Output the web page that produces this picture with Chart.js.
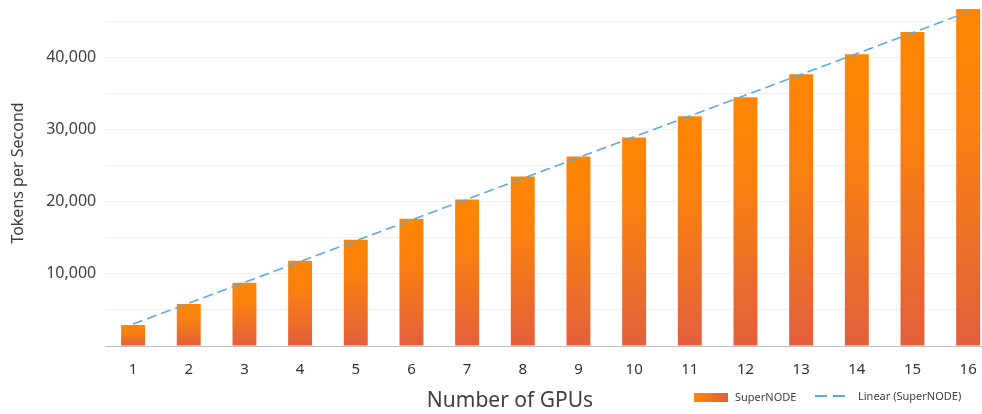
<!DOCTYPE html>
<html>
<head>
<meta charset="utf-8">
<script src="https://cdn.jsdelivr.net/npm/chart.js@4.4.1/dist/chart.umd.min.js"></script>
<style>
  body { margin: 0; overflow: hidden; background: #fff; }
  #wrap { width: 1000px; height: 414px; }
</style>
</head>
<body>
<div id="wrap"><canvas id="gpuChart"></canvas></div>
<script>
const gpus = ['1', '2', '3', '4', '5', '6', '7', '8', '9', '10', '11', '12', '13', '14', '15', '16'];
const tokensPerSecond = [2920, 5840, 8770, 11830, 14750, 17670, 20310, 23510, 26300, 28940, 31860, 34500, 37700, 40490, 43550, 46750];
// trendline: only the two ends, joined straight
const linearTrend = [3050, null, null, null, null, null, null, null, null, null, null, null, null, null, null, 46350];
// gridlines every 5,000, labelled every 10,000
const yTickValues = [0, 5000, 10000, 15000, 20000, 25000, 30000, 35000, 40000, 45000];
const yTickLabels = ['', '', '10,000', '', '20,000', '', '30,000', '', '40,000', ''];

const FONT = "'Noto Sans', 'DejaVu Sans', sans-serif";

//Vertical orange to red fill for each bar, from its own top to the axis
function barFill(context) {
    const chart = context.chart;
    if (!chart.chartArea || !chart.scales.y) return '#F58220';
    const y = chart.scales.y;
    const top = y.getPixelForValue(tokensPerSecond[context.dataIndex]);
    const bottom = y.getPixelForValue(0);
    const g = chart.ctx.createLinearGradient(0, top, 0, bottom);
    g.addColorStop(0, '#FF8600');
    g.addColorStop(0.35, '#FA8010');
    g.addColorStop(1, '#E25F3C');
    return g;
}

//Draws x axis title and the legend on the same row, like the original
const bottomRow = {
    id: 'bottomRow',
    afterDraw(chart) {
        const ctx = chart.ctx;
        ctx.save();
        ctx.fillStyle = '#404040';
        ctx.font = '21px ' + FONT;
        ctx.textAlign = 'center';
        ctx.textBaseline = 'middle';
        ctx.fillText('Number of GPUs', 510, 401);

        const g = ctx.createLinearGradient(694, 0, 728, 0);
        g.addColorStop(0, '#FF8600');
        g.addColorStop(1, '#E25F3C');
        ctx.fillStyle = g;
        ctx.fillRect(694, 393, 34, 9);

        ctx.strokeStyle = '#5AAAE0';
        ctx.lineWidth = 2;
        ctx.setLineDash([12, 6]);
        ctx.beginPath();
        ctx.moveTo(815, 396);
        ctx.lineTo(848, 396);
        ctx.stroke();

        ctx.fillStyle = '#404040';
        ctx.font = '11px ' + FONT;
        ctx.textAlign = 'left';
        ctx.fillText('SuperNODE', 735, 398);
        ctx.fillText('Linear (SuperNODE)', 858, 397);
        ctx.restore();
    }
};

const ctx = document.getElementById('gpuChart');
window.chart = new Chart(ctx, {
    data: {
        labels: gpus,
        datasets: [{
            type: 'line',
            label: 'Linear (SuperNODE)',
            data: linearTrend,
            spanGaps: true,
            borderColor: '#5AAAE0',
            borderWidth: 1.5,
            borderDash: [10, 5],
            pointRadius: 0,
            fill: false,
            order: 0
        }, {
            type: 'bar',
            label: 'SuperNODE',
            data: tokensPerSecond,
            backgroundColor: barFill,
            categoryPercentage: 1,
            barPercentage: 0.43,
            order: 1
        }]
    },
    options: {
        responsive: true,
        maintainAspectRatio: false,
        animation: false,
        layout: { padding: { top: 0, right: 4, bottom: 20, left: 9 } },
        plugins: {
            legend: { display: false },
            tooltip: { enabled: false }
        },
        scales: {
            x: {
                grid: { display: false, drawTicks: false },
                border: { display: true, color: '#BFBFBF', width: 1 },
                ticks: { color: '#333333', font: { family: FONT, size: 15 }, padding: 15 }
            },
            y: {
                min: 0,
                max: 48000,
                grid: { color: '#F0F0F0', drawTicks: false },
                border: { display: false },
                afterBuildTicks: (axis) => { axis.ticks = yTickValues.map(v => ({ value: v })); },
                // the plot runs up to the very top edge, as in the original
                afterFit: (axis) => { axis.paddingTop = 0; },
                ticks: {
                    color: '#404040',
                    font: { family: FONT, size: 16 },
                    padding: 9,
                    callback: (v, i) => yTickLabels[i]
                },
                title: {
                    display: true,
                    text: 'Tokens per Second',
                    color: '#404040',
                    font: { family: FONT, size: 16 },
                    padding: { top: 0, bottom: 9 }
                }
            }
        }
    },
    plugins: [bottomRow]
});
</script>
</body>
</html>
